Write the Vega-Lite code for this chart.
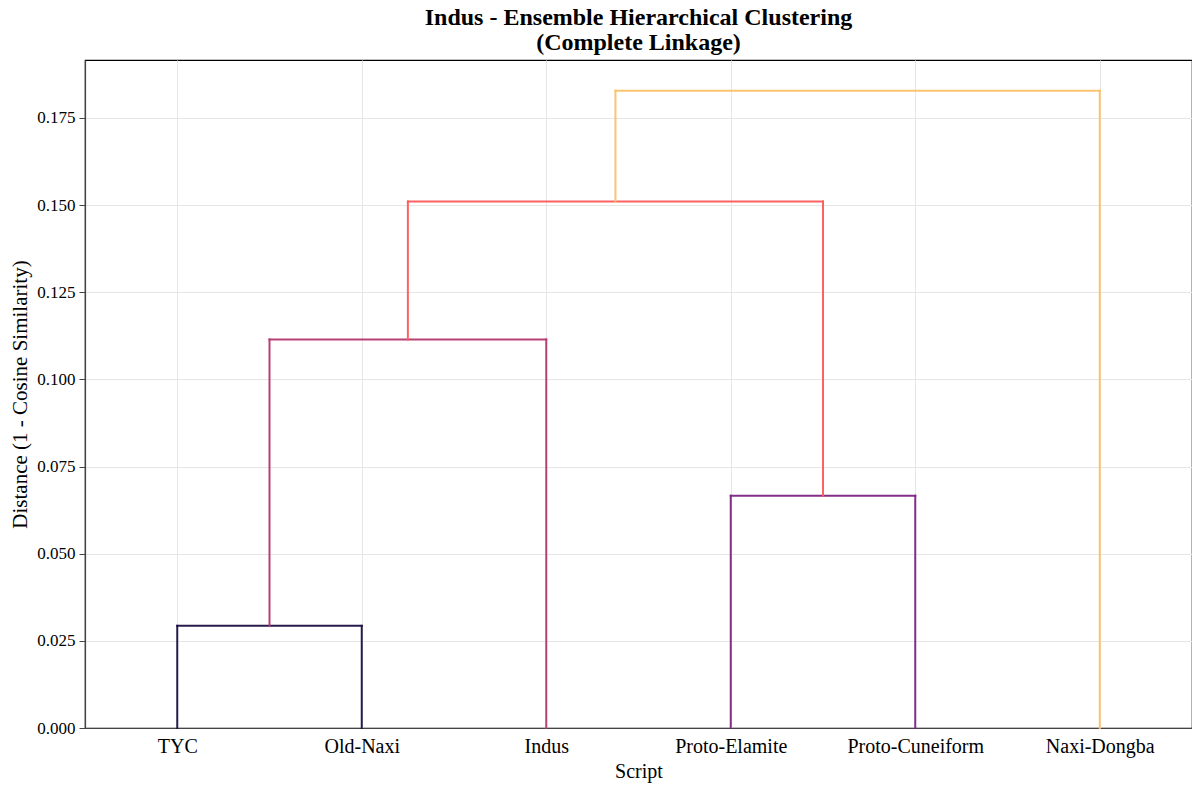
{
  "$schema": "https://vega.github.io/schema/vega-lite/v6.json",
  "autosize": "none",
  "width": 1107,
  "height": 668,
  "padding": {"left": 85, "top": 60, "right": 0, "bottom": 57},
  "background": "#ffffff",
  "config": {
    "font": "Liberation Serif",
    "view": {"stroke": "#000000", "strokeWidth": 1.2},
    "axis": {
      "gridColor": "#e6e6e6",
      "gridWidth": 1,
      "domainColor": "#444444",
      "domainWidth": 1.2,
      "labelColor": "#000000",
      "titleColor": "#000000",
      "titleFontWeight": "normal",
      "tickColor": "#444444"
    }
  },
  "title": {
    "text": ["Indus - Ensemble Hierarchical Clustering", "(Complete Linkage)"],
    "fontSize": 24,
    "fontWeight": "bold",
    "color": "#000000",
    "anchor": "middle",
    "offset": 5,
    "lineHeight": 25
  },
  "data": {
    "values": [
      {"link": "L1", "x": 5, "x2": 5, "y": 0, "y2": 0.0293},
      {"link": "L1", "x": 5, "x2": 15, "y": 0.0293, "y2": 0.0293},
      {"link": "L1", "x": 15, "x2": 15, "y": 0.0293, "y2": 0},
      {"link": "L2", "x": 10, "x2": 10, "y": 0.0293, "y2": 0.1114},
      {"link": "L2", "x": 10, "x2": 25, "y": 0.1114, "y2": 0.1114},
      {"link": "L2", "x": 25, "x2": 25, "y": 0.1114, "y2": 0},
      {"link": "L3", "x": 35, "x2": 35, "y": 0, "y2": 0.0666},
      {"link": "L3", "x": 35, "x2": 45, "y": 0.0666, "y2": 0.0666},
      {"link": "L3", "x": 45, "x2": 45, "y": 0.0666, "y2": 0},
      {"link": "L4", "x": 17.5, "x2": 17.5, "y": 0.1114, "y2": 0.1510},
      {"link": "L4", "x": 17.5, "x2": 40, "y": 0.1510, "y2": 0.1510},
      {"link": "L4", "x": 40, "x2": 40, "y": 0.1510, "y2": 0.0666},
      {"link": "L5", "x": 28.75, "x2": 28.75, "y": 0.1510, "y2": 0.1828},
      {"link": "L5", "x": 28.75, "x2": 55, "y": 0.1828, "y2": 0.1828},
      {"link": "L5", "x": 55, "x2": 55, "y": 0.1828, "y2": 0}
    ]
  },
  "mark": {"type": "rule", "strokeWidth": 2, "opacity": 0.95, "strokeCap": "square"},
  "encoding": {
    "x": {
      "field": "x",
      "type": "quantitative",
      "scale": {"domain": [0, 60], "nice": false, "zero": false},
      "axis": {
        "title": "Script",
        "titleFontSize": 20,
        "titlePadding": 5,
        "labelFontSize": 20,
        "values": [5, 15, 25, 35, 45, 55],
        "labelExpr": "['TYC','Old-Naxi','Indus','Proto-Elamite','Proto-Cuneiform','Naxi-Dongba'][(datum.value - 5) / 10]",
        "ticks": false,
        "labelPadding": 8,
        "grid": true
      }
    },
    "x2": {"field": "x2"},
    "y": {
      "field": "y",
      "type": "quantitative",
      "scale": {"domain": [0, 0.1916], "nice": false},
      "axis": {
        "title": "Distance (1 - Cosine Similarity)",
        "titleFontSize": 21,
        "titlePadding": 6,
        "labelFontSize": 17,
        "values": [0, 0.025, 0.05, 0.075, 0.1, 0.125, 0.15, 0.175],
        "format": ".3f",
        "tickSize": 6,
        "labelPadding": 4,
        "grid": true
      }
    },
    "y2": {"field": "y2"},
    "color": {
      "field": "link",
      "type": "nominal",
      "scale": {
        "domain": ["L1", "L2", "L3", "L4", "L5"],
        "range": ["#1b1042", "#b5366f", "#7b2382", "#fd5a5a", "#fcc06b"]
      },
      "legend": null
    }
  }
}
